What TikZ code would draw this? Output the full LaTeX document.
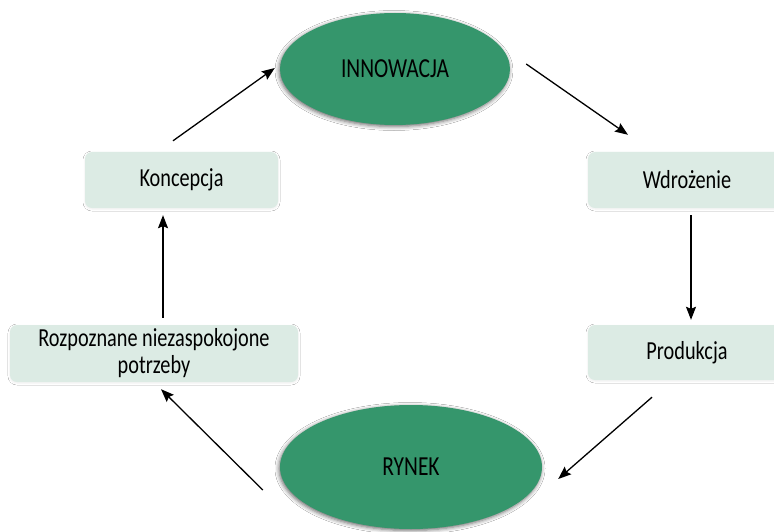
\documentclass[tikz,border=0pt]{standalone}
\usepackage{fontspec}
\setmainfont{Carlito}[FakeStretch=0.78]
\usetikzlibrary{arrows.meta,shadows.blur,shapes.geometric}
\definecolor{ovalgreen}{RGB}{53,150,108}
\definecolor{boxfill}{RGB}{220,235,228}
\tikzset{
  oval/.style={ellipse, fill=ovalgreen, inner sep=0pt,
    blur shadow={shadow xshift=-1pt, shadow yshift=-1.5pt, shadow blur radius=4pt, shadow opacity=60},
    font=\fontsize{27.5}{30}\selectfont, text=black},
  stagebox/.style={rectangle, rounded corners=7pt, fill=boxfill, inner sep=0pt,
    blur shadow={shadow xshift=0pt, shadow yshift=-1pt, shadow blur radius=2pt, shadow opacity=7},
    font=\fontsize{26}{27}\selectfont, text=black, align=center},
  arr/.style={line width=1.3pt, -{Stealth[length=13pt,width=10pt,inset=2pt]}}
}
\begin{document}
\begin{tikzpicture}[x=1pt,y=-1pt]
\useasboundingbox[fill=white] (0,0) rectangle (774,532);
% ellipses
\node[oval, minimum width=230pt, minimum height=112pt] (i) at (395,69) {INNOWACJA};
\node[oval, minimum width=262pt, minimum height=124pt] (r) at (411,467) {RYNEK};
% boxes
\node[stagebox, minimum width=193pt, minimum height=56pt] (k) at (181.5,180) {Koncepcja};
\node[stagebox, minimum width=198pt, minimum height=56pt] (w) at (687,180) {Wdrożenie};
\node[stagebox, minimum width=198pt, minimum height=55pt] (p) at (687,352.5) {Produkcja};
\node[stagebox, minimum width=288pt, minimum height=57pt] (z) at (154,353.5) {Rozpoznane niezaspokojone\\potrzeby};
% arrows
\draw[arr] ([shift={(-8.5,-11)}]k.north) -- ([shift={(-5,-1)}]i.west);
\draw[arr] ([shift={(16,-5)}]i.east) -- ([shift={(-59,-17)}]w.north);
\draw[arr] ([shift={(4,7)}]w.south) -- ([shift={(4,-5)}]p.north);
\draw[arr] ([shift={(-35,17)}]p.south) -- ([shift={(16,12)}]r.east);
\draw[arr] ([shift={(-17,23)}]r.west) -- ([shift={(7,7)}]z.south);
\draw[arr] ([shift={(9,-7)}]z.north) -- ([shift={(-18.5,7)}]k.south);
\end{tikzpicture}
\end{document}
